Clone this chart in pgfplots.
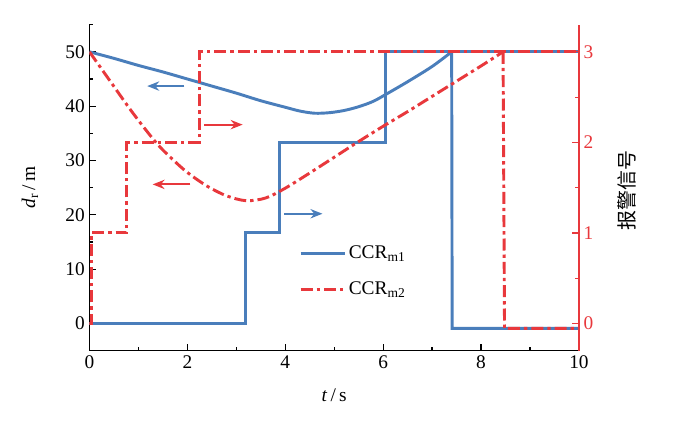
\documentclass[border=0pt]{standalone}
\usepackage{pgfplots}
\pgfplotsset{compat=1.18}
\usepackage{fontspec}
\setmainfont{Liberation Serif}
\newfontfamily\cjk{Noto Sans CJK SC}
\usetikzlibrary{arrows.meta}
\definecolor{cblue}{RGB}{74,126,187}
\definecolor{cred}{RGB}{232,56,60}

\pgfplotstableread{
x y
0 50
0.5 48.8
1 47.5
1.5 46.3
2 45.0
2.5 43.7
3 42.4
3.5 41.0
4 39.8
4.3 39.1
4.6 38.7
4.9 38.8
5.2 39.2
5.5 39.9
5.8 40.9
6.1 42.4
6.5 44.5
7.0 47.3
7.4 50
}\bluedist

\pgfplotstableread{
x y
7.4 50
7.41 -0.9
10 -0.9
}\bluedrop

\pgfplotstableread{
x y
0 0
3.19 0
3.19 16.67
3.89 16.67
3.89 33.33
6.05 33.33
6.05 50
10 50
}\bluealarm

\pgfplotstableread{
x y
0 50
0.4 44.9
0.89 38.7
1.37 33.2
1.7 30.2
2.0 27.8
2.4 25.3
2.8 23.5
3.2 22.6
3.6 23.1
4.0 24.9
4.5 27.7
5.0 30.6
5.5 33.5
6.0 36.3
6.5 39.0
7.0 41.8
7.5 44.6
8.0 47.4
8.45 50
}\reddist

\pgfplotstableread{
x y
8.45 50
8.48 -0.9
10 -0.9
}\reddrop

\pgfplotstableread{
x y
0 0
0.045 0
0.045 16.67
0.76 16.67
0.76 33.33
2.24 33.33
2.24 50
10 50
}\redalarm

\begin{document}
\begin{tikzpicture}
\path[use as bounding box] (-67.1pt,-52.7pt) rectangle (439.9pt,263.0pt);
\begin{axis}[
  at={(0,0)}, anchor=south west,
  scale only axis, width=367.1pt, height=244.5pt,
  xmin=0, xmax=10, ymin=-5, ymax=55,
  axis x line*=bottom, axis y line*=left,
  axis line style={black, line width=0.9pt},
  xtick={0,2,...,10}, minor xtick={1,3,...,9},
  ytick={0,10,...,50}, minor ytick={-5,5,15,...,55},
  tick align=inside,
  major tick length=5.2pt, minor tick length=3pt,
  tick style={black, line width=0.9pt},
  /pgf/number format/assume math mode=true,
  tick label style={font=\fontsize{14.5}{14.5}\selectfont},
  xlabel={\textit{t}\,/\,s},
  ylabel={\textit{d}\textsubscript{r}\,/\,m},
  label style={font=\fontsize{14.5}{14.5}\selectfont},
  xlabel style={at={(axis description cs:0.5,-0.136)}, anchor=center},
  ylabel style={at={(axis description cs:-0.1216,0.5)}, anchor=center},
  legend style={draw=none, fill=none, at={(axis description cs:0.428,0.33)}, anchor=north west,
    font=\fontsize{14.5}{14.5}\selectfont, row sep=12pt, inner sep=0pt},
  legend cell align=left,
  legend image code/.code={\draw[#1] (0pt,0pt) -- (33pt,0pt);},
]
\addplot[cblue, line width=2.2pt, smooth] table {\bluedist};
\addlegendentry{CCR\textsubscript{m1}}
\addplot[cblue, line width=2.2pt, forget plot] table {\bluedrop};
\addplot[cblue, line width=2.2pt, forget plot] table {\bluealarm};
\addplot[cred, line width=2.2pt, smooth, dash pattern=on 9pt off 3pt on 2.5pt off 3pt] table {\reddist};
\addlegendentry{CCR\textsubscript{m2}}
\addplot[cred, line width=2.2pt, dash pattern=on 9pt off 3pt on 2.5pt off 3pt, forget plot] table {\reddrop};
\addplot[cred, line width=2.2pt, dash pattern=on 9pt off 3pt on 2.5pt off 3pt, forget plot] table {\redalarm};
\draw[cblue, line width=1.4pt, -{Stealth[length=9pt,width=7pt]}] (axis cs:1.94,43.7) -- (axis cs:1.18,43.7);
\draw[cred, line width=1.4pt, -{Stealth[length=9pt,width=7pt]}] (axis cs:2.35,36.6) -- (axis cs:3.13,36.6);
\draw[cred, line width=1.4pt, -{Stealth[length=9pt,width=7pt]}] (axis cs:2.06,25.6) -- (axis cs:1.29,25.6);
\draw[cblue, line width=1.4pt, -{Stealth[length=9pt,width=7pt]}] (axis cs:3.98,20.2) -- (axis cs:4.76,20.2);
\end{axis}
\begin{axis}[
  at={(0,0)}, anchor=south west,
  scale only axis, width=367.1pt, height=244.5pt,
  xmin=0, xmax=10, ymin=-0.3, ymax=3.3,
  axis x line=none, axis y line*=right,
  y axis line style={cred, line width=0.9pt},
  ytick={0,1,2,3}, minor ytick={0.5,1.5,2.5},
  tick align=inside,
  major tick length=5.2pt, minor tick length=3pt,
  y tick style={cred, line width=0.9pt},
  /pgf/number format/assume math mode=true,
  yticklabel style={font=\fontsize{14.5}{14.5}\selectfont, text=cred},
  ylabel={\cjk 报警信号},
  ylabel style={font=\fontsize{15}{15}\selectfont, at={(axis description cs:1.098,0.49)}, anchor=center, rotate=0},
]
\end{axis}
\end{tikzpicture}
\end{document}
